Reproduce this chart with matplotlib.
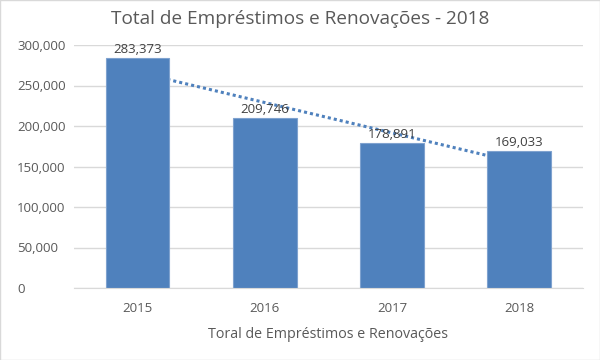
import numpy as np
import matplotlib.pyplot as plt
from matplotlib.ticker import FuncFormatter

years = ['2015', '2016', '2017', '2018']
totals = [283373, 209746, 178891, 169033]

plt.rcParams['font.family'] = ['Open Sans', 'DejaVu Sans']

fig = plt.figure(figsize=(6, 3.6), dpi=100)
ax = fig.add_axes([0.1233, 0.2, 0.848, 0.675])

x = np.arange(len(years))
bar_color = '#4F81BD'

# linear trendline (drawn behind the bars, like in the original)
coef = np.polyfit(x, totals, 1)
ax.plot(x, np.polyval(coef, x), linestyle=(0, (1, 1)), color=bar_color,
        linewidth=2.2, zorder=1)

bars = ax.bar(x, totals, width=0.5, color=bar_color, edgecolor='#7FA2CF',
              linewidth=0.8, zorder=2)

for xi, v in zip(x, totals):
    ax.text(xi, v + 2500, f'{v:,}', ha='center', va='bottom', fontsize=9.5,
            color='#404040', zorder=3)

ax.set_xlim(-0.5, 3.5)
ax.set_ylim(0, 300000)
ax.set_yticks(range(0, 300001, 50000))
ax.yaxis.set_major_formatter(FuncFormatter(lambda v, p: f'{int(v):,}'))
ax.set_xticks(x)
ax.set_xticklabels(years)

ax.grid(axis='y', color='#D9D9D9', linewidth=1)
ax.set_axisbelow(True)
for s in ['top', 'right', 'left']:
    ax.spines[s].set_visible(False)
ax.spines['bottom'].set_color('#D9D9D9')
ax.tick_params(axis='both', length=0, labelsize=9.5, colors='#595959')
ax.tick_params(axis='x', pad=10)
ax.tick_params(axis='y', pad=41)
for lbl in ax.get_yticklabels():
    lbl.set_horizontalalignment('left')

ax.set_xlabel('Toral de Empréstimos e Renovações', fontsize=10.3, color='#595959',
              labelpad=9)
fig.text(0.5, 0.948, 'Total de Empréstimos e Renovações - 2018', ha='center',
         va='center', fontsize=13.7, color='#595959')

fig.patches.append(plt.Rectangle((0, 0), 1, 1, transform=fig.transFigure,
                                 fill=False, edgecolor='#D9D9D9', linewidth=1))

fig.savefig('out.png', dpi=100)
